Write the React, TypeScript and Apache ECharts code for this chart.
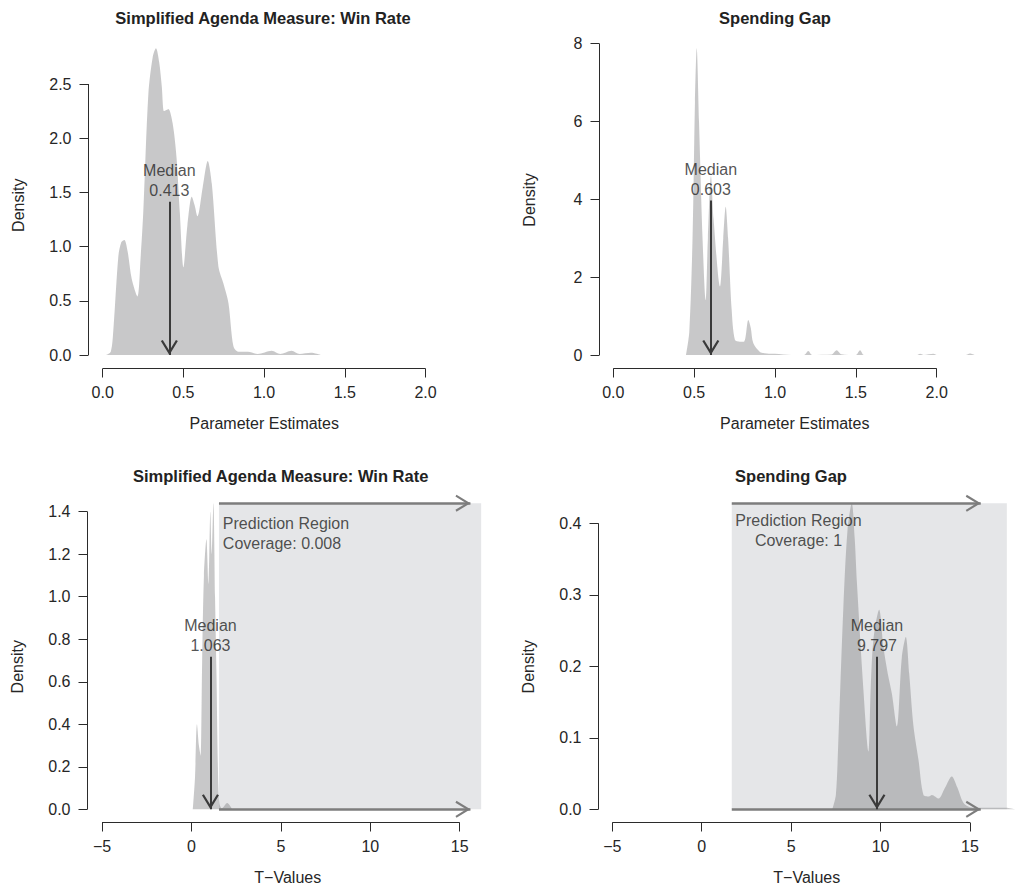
import React, { useEffect, useRef } from "react";
import * as echarts from "echarts";

// ---------- data ----------
const tlDensity: [number, number][] = [
  [0.02, 0], [0.05, 0.03], [0.066, 0.23], [0.097, 0.91], [0.115, 1.04], [0.134, 1.06], [0.155, 0.95],
  [0.18, 0.7], [0.215, 0.54], [0.235, 0.9], [0.252, 1.34], [0.283, 2.41], [0.31, 2.75], [0.33, 2.83],
  [0.35, 2.7], [0.366, 2.48], [0.38, 2.25], [0.395, 2.26], [0.407, 2.27], [0.433, 2.14], [0.457, 1.83],
  [0.478, 1.31], [0.5, 0.81], [0.525, 1.2], [0.552, 1.46], [0.57, 1.38], [0.587, 1.28], [0.62, 1.55],
  [0.651, 1.79], [0.676, 1.58], [0.717, 0.815], [0.748, 0.66], [0.779, 0.48], [0.81, 0.08], [0.84, 0.03],
  [0.9, 0.03], [0.96, 0.01], [1.047, 0.04], [1.1, 0.01], [1.17, 0.04], [1.22, 0.01], [1.29, 0.02], [1.35, 0],
];
const trDensity: [number, number][] = [
  [0.45, 0], [0.47, 0.6], [0.49, 3.0], [0.505, 6.5], [0.516, 7.88], [0.53, 6.0], [0.553, 2.87], [0.571, 1.41],
  [0.585, 3.0], [0.604, 4.6], [0.62, 3.5], [0.66, 1.76], [0.68, 3.0], [0.695, 3.81], [0.71, 3.0], [0.732, 1.16],
  [0.752, 0.39], [0.783, 0.34], [0.81, 0.35], [0.835, 0.9], [0.85, 0.7], [0.866, 0.3], [0.907, 0.08],
  [0.95, 0.04], [1.0, 0.03], [1.1, 0.0], [1.18, 0.0], [1.206, 0.1], [1.23, 0], [1.35, 0.01], [1.381, 0.12],
  [1.41, 0.02], [1.5, 0], [1.526, 0.12], [1.55, 0], [1.88, 0], [1.897, 0.03], [1.92, 0], [1.98, 0.03],
  [2.0, 0], [2.18, 0], [2.205, 0.04], [2.235, 0],
];
const blDensity: [number, number][] = [
  [0.08, 0], [0.2, 0.15], [0.31, 0.4], [0.42, 0.3], [0.52, 0.25], [0.6, 0.7], [0.7, 1.1], [0.84, 1.27],
  [0.95, 1.06], [1.06, 1.4], [1.13, 1.2], [1.23, 1.44], [1.32, 1.0], [1.4, 0.64], [1.48, 0.2], [1.56, 0.03],
  [1.7, 0.005], [2.0, 0.03], [2.28, 0],
];
const brDensity: [number, number][] = [
  [7.3, 0], [7.5, 0.02], [7.64, 0.097], [7.92, 0.283], [8.15, 0.39], [8.39, 0.428], [8.55, 0.38], [8.67, 0.32],
  [9.04, 0.167], [9.32, 0.081], [9.45, 0.17], [9.6, 0.237], [9.92, 0.279], [10.16, 0.227], [10.4, 0.19],
  [10.63, 0.162], [10.91, 0.116], [11.19, 0.213], [11.41, 0.241], [11.6, 0.19], [11.84, 0.116], [12.12, 0.069],
  [12.4, 0.02], [12.7, 0.018], [12.87, 0.02], [13.24, 0.015], [13.6, 0.03], [13.98, 0.046], [14.3, 0.03],
  [14.63, 0.009], [15.0, 0.003], [16, 0.002], [17.0, 0.002], [17.5, 0],
];

const titles = [
  "Simplified Agenda Measure: Win Rate",
  "Spending Gap",
  "Simplified Agenda Measure: Win Rate",
  "Spending Gap",
];
const xNames = ["Parameter Estimates", "Parameter Estimates", "T\u2212Values", "T\u2212Values"];
const yName = "Density";

const xTicksTop = [0, 0.5, 1, 1.5, 2];
const xTicksBottom = [-5, 0, 5, 10, 15];
const yTicksTL = [0, 0.5, 1, 1.5, 2, 2.5];
const yTicksTR = [0, 2, 4, 6, 8];
const yTicksBL = [0, 0.2, 0.4, 0.6, 0.8, 1.0, 1.2, 1.4];
const yTicksBR = [0, 0.1, 0.2, 0.3, 0.4];

const medians = [0.413, 0.603, 1.063, 9.797];
const medianLabels = ["0.413", "0.603", "1.063", "9.797"];
const medianArrowTops = [1.414, 3.97, 0.718, 0.2134];

// prediction regions (bottom panels)
const regionStart = [1.54, 1.68];
const regionEnd = [16.2, 17.06];
const regionTop = [1.44, 0.428];
const regionArrowEnd = [15.6, 15.6];
const coverageLabels = ["0.008", "1"];
const predLabelX = [1.73, 5.41];
const predLabelY = [1.298, 0.3906];

// ---------- styles / layout ----------
const FONT = '"Liberation Sans", Arial, Helvetica, sans-serif';
const AXIS_COLOR = "#2b2b2b";
const TEXT_COLOR = "#262626";
const DENSITY_FILL = "rgba(130,130,132,0.44)";
const REGION_FILL = "#e5e6e8";
const REGION_ARROW = "#7d7d7d";
const MEDIAN_ARROW = "#3a3a3a";
const ARROW = "path://M0,17L10,0L20,17L17.76,18.3L10,5.1L2.24,18.3Z";
const FS = 16;

// pixel reference positions used to derive axis ranges for each panel
const layouts = [
  { gl: 88.5, gt: 42, gr: 440, gb: 368.5, xRef: [102.7, 0, 425.5, 2], yRef: [355, 0, 84, 2.5], titleX: 263, titleY: 9, yPad: 0 },
  { gl: 599.5, gt: 31.5, gr: 990, gb: 368.5, xRef: [613.3, 0, 936.7, 2], yRef: [355, 0, 43.7, 8], titleX: 775, titleY: 9, yPad: 0 },
  { gl: 87.5, gt: 497, gr: 488, gb: 822.5, xRef: [102, -5, 459.7, 15], yRef: [809.3, 0, 511.7, 1.4], titleX: 280.7, titleY: 467, yPad: 14 },
  { gl: 598.5, gt: 497, gr: 1015, gb: 822.5, xRef: [612.3, -5, 970, 15], yRef: [809.3, 0, 523.3, 0.4], titleX: 791, titleY: 467, yPad: 14 },
];

function lin(ref: number[], p: number) {
  const [pA, vA, pB, vB] = ref;
  return vA + ((p - pA) * (vB - vA)) / (pB - pA);
}

const fmt = (dec: number) => (v: number) => v.toFixed(dec).replace("-", "\u2212");

function axisSeg(a: number[], b: number[]) {
  const ls = { color: AXIS_COLOR, width: 1, type: "solid" };
  return [
    { coord: a, symbol: "none", lineStyle: ls },
    { coord: b, symbol: "none", lineStyle: ls },
  ];
}
function arrowSeg(a: number[], b: number[], color: string, width: number) {
  const ls = { color, width, type: "solid" };
  return [
    { coord: a, symbol: "none", lineStyle: ls },
    { coord: b, symbol: ARROW, symbolSize: [17, 15], symbolOffset: [0, 7.5], lineStyle: ls },
  ];
}

function buildOption() {
  const panels = [
    { density: tlDensity, xTicks: xTicksTop, xDec: 1, yTicks: yTicksTL, yDec: 1, region: -1 },
    { density: trDensity, xTicks: xTicksTop, xDec: 1, yTicks: yTicksTR, yDec: 0, region: -1 },
    { density: blDensity, xTicks: xTicksBottom, xDec: 0, yTicks: yTicksBL, yDec: 1, region: 0 },
    { density: brDensity, xTicks: xTicksBottom, xDec: 0, yTicks: yTicksBR, yDec: 1, region: 1 },
  ];

  const grid: any[] = [];
  const xAxis: any[] = [];
  const yAxis: any[] = [];
  const series: any[] = [];
  const title: any[] = [];
  const textStyle = { fontSize: FS, color: TEXT_COLOR, fontFamily: FONT };

  panels.forEach((p, i) => {
    const L = layouts[i];
    const xMin = lin(L.xRef, L.gl);
    const xMax = lin(L.xRef, L.gr);
    const yMin = lin(L.yRef, L.gb);
    const yMax = lin(L.yRef, L.gt);

    grid.push({ left: L.gl, top: L.gt, width: L.gr - L.gl, height: L.gb - L.gt, containLabel: false });
    title.push({
      text: titles[i],
      left: L.titleX,
      top: L.titleY,
      textAlign: "center",
      padding: 0,
      textStyle: { fontSize: 16.5, fontWeight: "bold", color: "#222", fontFamily: FONT },
    });

    xAxis.push({
      type: "value",
      gridIndex: i,
      min: xMin,
      max: xMax,
      axisLine: { show: false, onZero: false },
      splitLine: { show: false },
      axisTick: { show: true, inside: false, length: 9, customValues: p.xTicks, lineStyle: { color: AXIS_COLOR, width: 1 } },
      axisLabel: { customValues: p.xTicks, formatter: fmt(p.xDec), margin: 16, ...textStyle },
      name: xNames[i],
      nameLocation: "middle",
      nameGap: 47,
      nameTextStyle: { ...textStyle },
    });
    yAxis.push({
      type: "value",
      gridIndex: i,
      min: yMin,
      max: yMax,
      axisLine: { show: false, onZero: false },
      splitLine: { show: false },
      axisTick: { show: true, inside: false, length: 9, customValues: p.yTicks, lineStyle: { color: AXIS_COLOR, width: 1 } },
      axisLabel: { customValues: p.yTicks, formatter: fmt(p.yDec), margin: 17, ...textStyle },
      name: yName,
      nameLocation: "middle",
      nameRotate: 90,
      nameGap: 62,
      nameTextStyle: { ...textStyle, padding: [0, L.yPad, 0, 0] },
    });

    const xt = p.xTicks;
    const yt = p.yTicks;
    const mlData: any[] = [
      axisSeg([xt[0], yMin], [xt[xt.length - 1], yMin]),
      axisSeg([xMin, yt[0]], [xMin, yt[yt.length - 1]]),
    ];
    let markArea: any = undefined;
    if (p.region >= 0) {
      const r = p.region;
      markArea = {
        silent: true,
        itemStyle: { color: REGION_FILL },
        data: [[{ coord: [regionStart[r], 0] }, { coord: [regionEnd[r], regionTop[r]] }]],
      };
      mlData.push(arrowSeg([regionStart[r], regionTop[r]], [regionArrowEnd[r], regionTop[r]], REGION_ARROW, 2.5));
      mlData.push(arrowSeg([regionStart[r], 0], [regionArrowEnd[r], 0], REGION_ARROW, 2.5));
    }
    mlData.push(arrowSeg([medians[i], medianArrowTops[i]], [medians[i], 0], MEDIAN_ARROW, 2));

    series.push({
      type: "line",
      xAxisIndex: i,
      yAxisIndex: i,
      data: p.density,
      symbol: "none",
      showSymbol: false,
      smooth: 0.3,
      clip: false,
      silent: true,
      lineStyle: { width: 0, opacity: 0 },
      areaStyle: { color: DENSITY_FILL, opacity: 1 },
      markArea,
      markLine: {
        silent: true,
        symbol: ["none", ARROW],
        symbolSize: [[17, 15], [17, 15]],
        symbolOffset: [[0, 0], [0, 7.5]],
        label: { show: false },
        lineStyle: { type: "solid" },
        emphasis: { disabled: true },
        data: mlData,
      },
    });

    // median text
    series.push({
      type: "scatter",
      xAxisIndex: i,
      yAxisIndex: i,
      symbolSize: 1,
      silent: true,
      itemStyle: { color: "transparent" },
      data: [[medians[i], medianArrowTops[i]]],
      label: {
        show: true,
        position: "top",
        distance: 1,
        formatter: "Median\n" + medianLabels[i],
        align: "center",
        lineHeight: 20,
        ...textStyle,
      },
      z: 6,
    });

    if (p.region >= 0) {
      const r = p.region;
      series.push({
        type: "scatter",
        xAxisIndex: i,
        yAxisIndex: i,
        symbolSize: 1,
        silent: true,
        itemStyle: { color: "transparent" },
        data: [[predLabelX[r], predLabelY[r]]],
        label: {
          show: true,
          position: r === 0 ? "right" : "inside",
          distance: 0,
          formatter: "Prediction Region\nCoverage: " + coverageLabels[r],
          align: r === 0 ? "left" : "center",
          lineHeight: 20,
          ...textStyle,
        },
        z: 6,
      });
    }
  });

  return {
    animation: false,
    backgroundColor: "#ffffff",
    title,
    grid,
    xAxis,
    yAxis,
    series,
  };
}

export default function App() {
  const ref = useRef<HTMLDivElement>(null);
  useEffect(() => {
    if (!ref.current) return;
    const chart = echarts.init(ref.current, null, { renderer: "svg" });
    chart.setOption(buildOption() as any);
    return () => chart.dispose();
  }, []);
  return (
    <div
      ref={ref}
      style={{ position: "absolute", left: 0, top: 0, width: 1015, height: 891, background: "#fff" }}
    />
  );
}
